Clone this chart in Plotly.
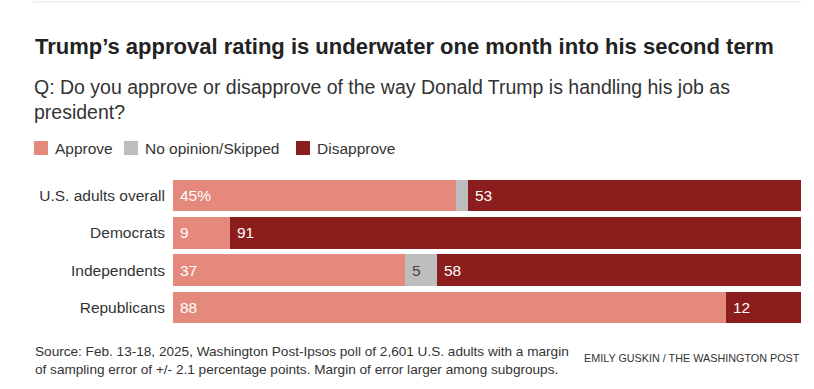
import plotly.graph_objects as go

# ---- data ----
categories = ["U.S. adults overall", "Democrats", "Independents", "Republicans"]
series_names = ["Approve", "No opinion/Skipped", "Disapprove"]
approve = [45, 9, 37, 88]
no_opinion = [2, 0, 5, 0]
disapprove = [53, 91, 58, 12]
label_text = {
    "Approve": ["45%", "9", "37", "88"],
    "No opinion/Skipped": ["", "", "5", ""],
    "Disapprove": ["53", "91", "58", "12"],
}
colors = ["#E4897C", "#BDBDBD", "#8C1D1D"]
label_colors = ["#FFFFFF", "#444444", "#FFFFFF"]

title = "Trump’s approval rating is underwater one month into his second term"
subtitle = "Q: Do you approve or disapprove of the way Donald Trump is handling his job as<br>president?"
source = ("Source: Feb. 13-18, 2025, Washington Post-Ipsos poll of 2,601 U.S. adults with a margin<br>"
          "of sampling error of +/- 2.1 percentage points. Margin of error larger among subgroups.")
credit = "EMILY GUSKIN / THE WASHINGTON POST"

# ---- layout geometry (pixels) ----
W, H = 814, 389
L, R, T, B = 173, 13, 177, 63
PW, PH = W - L - R, H - T - B

def px(x):
    return (x - L) / PW

def py(y):
    return (H - B - y) / PH

SANS = "Liberation Sans, Arial, sans-serif"
NARROW = "Liberation Sans Narrow, Arial Narrow, sans-serif"

fig = go.Figure()
all_values = [approve, no_opinion, disapprove]
for name, vals, col in zip(series_names, all_values, colors):
    fig.add_trace(go.Bar(
        y=categories, x=vals, name=name, orientation="h",
        marker=dict(color=col, line=dict(width=0)),
        showlegend=False, hoverinfo="x+y",
    ))

annotations = []
# segment labels, anchored at each segment start
for i, cat in enumerate(categories):
    base = 0
    for name, vals, lc in zip(series_names, all_values, label_colors):
        txt = label_text[name][i]
        if txt:
            annotations.append(dict(
                x=base, y=cat, xref="x", yref="y", text=txt, showarrow=False,
                xanchor="left", yanchor="middle", xshift=5,
                font=dict(family=SANS, size=15.5, color=lc),
            ))
        base += vals[i]

# title & subtitle
annotations.append(dict(x=px(33), y=py(46), xref="paper", yref="paper", text="<b>" + title + "</b>",
                        showarrow=False, xanchor="left", yanchor="middle",
                        font=dict(family=SANS, size=22, color="#222222")))
annotations.append(dict(x=px(32), y=py(99), xref="paper", yref="paper", text=subtitle,
                        showarrow=False, xanchor="left", yanchor="middle", align="left",
                        font=dict(family=SANS, size=19.5, color="#333333")))

# custom legend
shapes = []
legend_x = [34, 124, 296]
for name, col, lx in zip(series_names, colors, legend_x):
    shapes.append(dict(type="rect", xref="paper", yref="paper",
                       x0=px(lx), x1=px(lx + 14), y0=py(155), y1=py(141),
                       fillcolor=col, line=dict(width=0)))
    annotations.append(dict(x=px(lx + 19), y=py(148), xref="paper", yref="paper", text=name,
                            showarrow=False, xanchor="left", yanchor="middle",
                            font=dict(family=SANS, size=15.5, color="#333333")))

# top rule
shapes.append(dict(type="line", xref="paper", yref="paper", x0=px(33), x1=px(801),
                   y0=py(2), y1=py(2), line=dict(color="#E3E3E3", width=1)))

# source & credit
annotations.append(dict(x=px(33), y=py(360), xref="paper", yref="paper", text=source,
                        showarrow=False, xanchor="left", yanchor="middle", align="left",
                        font=dict(family=SANS, size=13.6, color="#333333")))
annotations.append(dict(x=px(802), y=py(358), xref="paper", yref="paper", text=credit,
                        showarrow=False, xanchor="right", yanchor="middle",
                        font=dict(family=NARROW, size=10.8, color="#333333")))

fig.update_layout(
    width=W, height=H,
    margin=dict(l=L, r=R, t=T, b=B, pad=0),
    barmode="stack", bargap=0.148,
    paper_bgcolor="white", plot_bgcolor="white",
    annotations=annotations, shapes=shapes,
    showlegend=False,
    xaxis=dict(range=[0, 100], visible=False, fixedrange=True),
    yaxis=dict(autorange="reversed", showgrid=False, zeroline=False, showline=False,
               ticks="", ticklabelstandoff=7,
               tickfont=dict(family=SANS, size=15.5, color="#333333"), fixedrange=True),
)

fig.write_html("out.html", config={"displayModeBar": False},
               post_script="document.body.style.margin='0';document.body.style.overflow='hidden';")
